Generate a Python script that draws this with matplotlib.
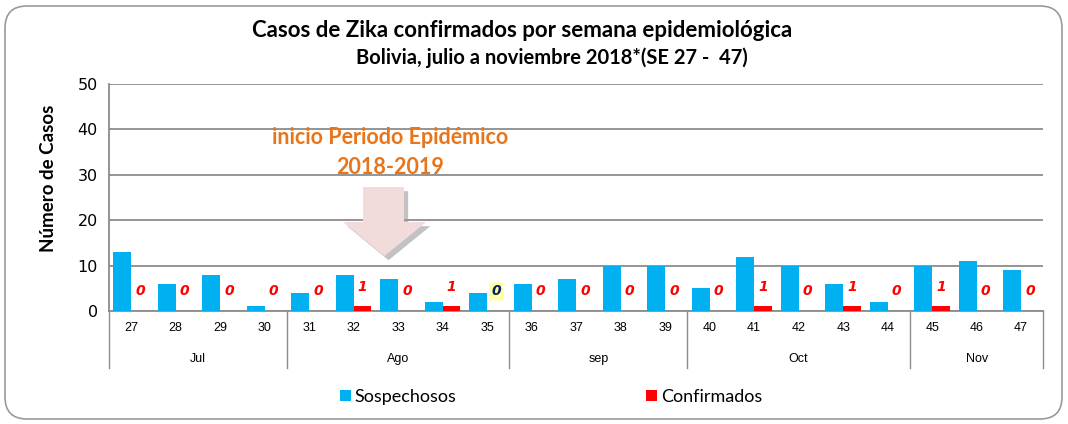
import numpy as np
import matplotlib
matplotlib.use('Agg')
import matplotlib.pyplot as plt
import matplotlib.patches as mpatches
import matplotlib.patheffects as pe
from matplotlib.transforms import IdentityTransform

semanas = [str(s) for s in range(27, 48)]
sospechosos = [13, 6, 8, 1, 4, 8, 7, 2, 4, 6, 7, 10, 10, 5, 12, 10, 6, 2, 10, 11, 9]
confirmados = [0, 0, 0, 0, 0, 1, 0, 1, 0, 0, 0, 0, 0, 0, 1, 0, 1, 0, 1, 0, 0]
meses = ['Jul', 'Ago', 'sep', 'Oct', 'Nov']
semanas_por_mes = [4, 5, 4, 5, 3]

azul = '#00B0F0'
rojo = '#FF0000'
gris = '#8C8C8C'
naranja = '#E8751A'
titulo_font = 'Lato'

fig = plt.figure(figsize=(10.68, 4.24), dpi=100)
ax = fig.add_axes([0.102, 0.2665, 0.875, 0.5355])

x = np.arange(len(semanas))
ax.bar(x - 0.2, sospechosos, width=0.4, color=azul, label='Sospechosos', zorder=3)
ax.bar(x + 0.2, confirmados, width=0.4, color=rojo, label='Confirmados', zorder=3)

ax.set_xlim(-0.5, len(semanas) - 0.5)
ax.set_ylim(0, 50)
ax.set_yticks(range(0, 51, 10))
ax.yaxis.grid(True, color=gris, linewidth=1.3, zorder=0)
ax.tick_params(axis='y', length=0, labelsize=11.5, pad=8)
ax.set_xticks(x)
ax.set_xticklabels(semanas, fontsize=9, family='Liberation Sans')
ax.tick_params(axis='x', length=0, pad=8)
for s in ['top', 'right']:
    ax.spines[s].set_visible(False)
for s in ['left', 'bottom']:
    ax.spines[s].set_color(gris)
    ax.spines[s].set_linewidth(1.3)

# etiquetas de confirmados
for i, c in enumerate(confirmados):
    if i == 8:
        ax.text(i + 0.2, c + 4.3, str(c), color='#002060', fontsize=10, fontweight='bold',
                fontstyle='italic', ha='center', va='center', zorder=4,
                bbox=dict(boxstyle='round,pad=0.15', fc='#FFFF66', ec='none', alpha=0.6))
    else:
        ax.text(i + 0.2, c + 4.3, str(c), color=rojo, fontsize=10, fontweight='bold',
                fontstyle='italic', ha='center', va='center', zorder=4)

# eje de meses
trans = ax.get_xaxis_transform()
bordes = np.concatenate([[0], np.cumsum(semanas_por_mes)]) - 0.5
for b in bordes:
    ax.plot([b, b], [0, -0.25], transform=trans, color=gris, linewidth=1, clip_on=False)
for m, a, b in zip(meses, bordes[:-1], bordes[1:]):
    ax.text((a + b) / 2, -0.21, m, transform=trans, ha='center', va='center',
            fontsize=9, family='Liberation Sans')

# flecha
flecha = mpatches.Polygon([[5.21, 27.3], [6.13, 27.3], [6.13, 19.6], [6.63, 19.6],
                           [5.69, 12.1], [4.76, 19.6], [5.21, 19.6]],
                          closed=True, fc='#F2DCDB', ec='none', zorder=5,
                          path_effects=[pe.SimplePatchShadow(offset=(3, -3), shadow_rgbFace='#9A9A9A', alpha=0.6),
                                        pe.Normal()])
ax.add_patch(flecha)
ax.text(5.82, 38.3, 'inicio Periodo Epidémico', color=naranja, fontsize=15.5,
        fontweight='bold', ha='center', va='center', family=titulo_font)
ax.text(5.82, 31.7, '2018-2019', color=naranja, fontsize=15.5,
        fontweight='bold', ha='center', va='center', family=titulo_font)

fig.text(0.489, 0.929, 'Casos de Zika confirmados por semana epidemiológica',
         fontsize=16, fontweight='bold', ha='center', va='center', family=titulo_font)
fig.text(0.517, 0.863, 'Bolivia, julio a noviembre 2018*(SE 27 -  47)',
         fontsize=14.5, fontweight='bold', ha='center', va='center', family=titulo_font)
fig.text(0.045, 0.58, 'Número de Casos', rotation=90, fontsize=13.5,
         fontweight='bold', ha='center', va='center', family=titulo_font)

fig.legend(loc='center', bbox_to_anchor=(0.516, 0.064), ncol=2, frameon=False,
           handlelength=0.6, handleheight=0.6, handletextpad=0.2, columnspacing=10.5,
           prop={'family': titulo_font, 'size': 13})

borde = mpatches.FancyBboxPatch((5, 5), 1057, 413, boxstyle='round,pad=0,rounding_size=22',
                                transform=IdentityTransform(), fc='none', ec='#9A9A9A', lw=1.2)
fig.add_artist(borde)

plt.savefig('out.png', dpi=100)
